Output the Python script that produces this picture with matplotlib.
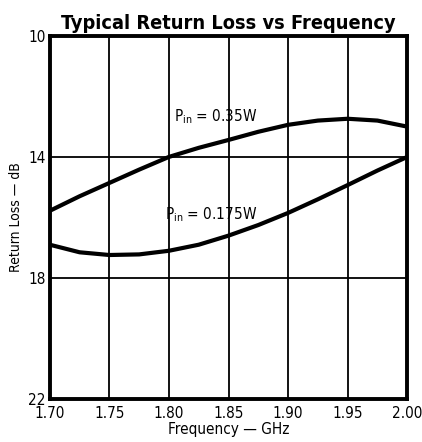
import matplotlib
matplotlib.use("Agg")
import matplotlib.pyplot as plt

# 데이터
freq = [1.70, 1.725, 1.75, 1.775, 1.80, 1.825, 1.85, 1.875, 1.90, 1.925, 1.95, 1.975, 2.00]
rl_035 = [15.78, 15.3, 14.86, 14.42, 14.0, 13.7, 13.44, 13.17, 12.94, 12.8, 12.74, 12.8, 13.0]
rl_0175 = [16.9, 17.15, 17.24, 17.22, 17.1, 16.9, 16.6, 16.25, 15.85, 15.4, 14.93, 14.45, 14.0]

xticks = [1.70, 1.75, 1.80, 1.85, 1.90, 1.95, 2.00]
yticks = [10, 14, 18, 22]

plt.rcParams['font.family'] = ['DejaVu Sans']
plt.rcParams['font.stretch'] = 'condensed'

fig = plt.figure(figsize=(4.22, 4.42), dpi=100)
ax = fig.add_axes([0.118, 0.097, 0.847, 0.822])

ax.plot(freq, rl_035, color="black", lw=3.0, solid_capstyle="butt", solid_joinstyle="round")
ax.plot(freq, rl_0175, color="black", lw=3.0, solid_capstyle="butt", solid_joinstyle="round")

ax.set_xlim(1.70, 2.00)
ax.set_ylim(22, 10)
ax.set_xticks(xticks)
ax.set_xticklabels(["%.2f" % v for v in xticks], fontsize=11)
ax.set_yticks(yticks)
ax.set_yticklabels([str(v) for v in yticks], fontsize=11)
ax.tick_params(axis="x", length=0, pad=5)
ax.tick_params(axis="y", length=0, pad=3)
ax.grid(True, color="black", lw=1.3)

for s in ax.spines.values():
    s.set_linewidth(2.8)

ax.text(1.804, 12.68, r"P$_{\mathregular{in}}$ = 0.35W", fontsize=11, va="center")
ax.text(1.797, 15.9, r"P$_{\mathregular{in}}$ = 0.175W", fontsize=11, va="center")

ax.set_xlabel("Frequency — GHz", fontsize=11, labelpad=1)
ax.set_ylabel("Return Loss — dB", fontsize=10, labelpad=4)
ax.set_title("Typical Return Loss vs Frequency", fontsize=14.3, fontweight="heavy", pad=5)

fig.savefig("out.png", dpi=100)
